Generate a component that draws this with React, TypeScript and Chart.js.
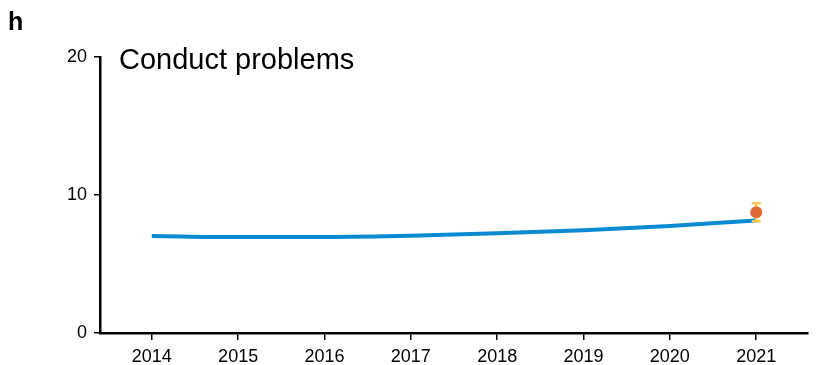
import React, { useEffect, useRef } from "react";
import { Chart, registerables } from "chart.js";

Chart.register(...registerables);

const years = [2014, 2015, 2016, 2017, 2018, 2019, 2020, 2021];
const trendValues = [7.03, 6.95, 6.96, 7.05, 7.22, 7.45, 7.76, 8.15];
const observedYear = [2021];
const observedValue = [8.75];
const observedLow = [8.1];
const observedHigh = [9.4];
const yTicks = [0, 10, 20];
const panelLabel = "h";
const panelTitle = "Conduct problems";

const FONT = "'Liberation Sans', Arial, sans-serif";

const errorBarPlugin = {
  id: "errorBars",
  afterDatasetsDraw(chart: any) {
    const { ctx, scales } = chart;
    const x = scales.x;
    const y = scales.y;
    ctx.save();
    ctx.strokeStyle = "#f9c74f";
    ctx.lineWidth = 2.5;
    observedYear.forEach((yr, i) => {
      const px = x.getPixelForValue(yr);
      const top = y.getPixelForValue(observedHigh[i]);
      const bot = y.getPixelForValue(observedLow[i]);
      ctx.beginPath();
      ctx.moveTo(px, top);
      ctx.lineTo(px, bot);
      ctx.moveTo(px - 4.5, top);
      ctx.lineTo(px + 4.5, top);
      ctx.moveTo(px - 4.5, bot);
      ctx.lineTo(px + 4.5, bot);
      ctx.stroke();
    });
    ctx.fillStyle = "#e0693a";
    observedYear.forEach((yr, i) => {
      ctx.beginPath();
      ctx.arc(x.getPixelForValue(yr), y.getPixelForValue(observedValue[i]), 6, 0, Math.PI * 2);
      ctx.fill();
    });
    ctx.restore();
  },
  afterDraw(chart: any) {
    const { ctx } = chart;
    ctx.save();
    ctx.fillStyle = "#000";
    ctx.textBaseline = "alphabetic";
    ctx.textAlign = "left";
    ctx.font = `bold 25px ${FONT}`;
    ctx.fillText(panelLabel, 8, 30);
    ctx.font = `29px ${FONT}`;
    ctx.fillText(panelTitle, 119, 69);
    ctx.restore();
  },
};

export default function App() {
  const ref = useRef<HTMLCanvasElement>(null);
  useEffect(() => {
    document.body.style.margin = "0";
    const chart = new Chart(ref.current!, {
      type: "line",
      data: {
        datasets: [
          {
            data: years.map((v, i) => ({ x: v, y: trendValues[i] })),
            borderColor: "#0a8ad0",
            borderWidth: 4,
            pointRadius: 0,
            cubicInterpolationMode: "monotone",
            fill: false,
          },
          {
            data: observedYear.map((v, i) => ({ x: v, y: observedValue[i] })),
            showLine: false,
            pointRadius: 0,
            borderColor: "#e0693a",
            backgroundColor: "#e0693a",
          },
        ],
      },
      options: {
        animation: false,
        responsive: false,
        layout: { padding: { top: 57, right: 14, left: 0, bottom: 0 } },
        plugins: { legend: { display: false }, tooltip: { enabled: false } },
        scales: {
          x: {
            type: "linear",
            min: 2013.4,
            max: 2021.6,
            afterBuildTicks: (s: any) => {
              s.ticks = years.map((v) => ({ value: v }));
            },
            afterFit: (s: any) => {
              s.height = 32;
            },
            grid: { drawOnChartArea: false, tickLength: 7, color: "#000", lineWidth: 1.5 },
            border: { color: "#000", width: 2.5 },
            ticks: {
              color: "#000",
              font: { family: FONT, size: 18 },
              padding: 6,
              callback: (v: any) => String(v),
              maxRotation: 0,
              autoSkip: false,
            },
          },
          y: {
            min: 0,
            max: 20,
            afterBuildTicks: (s: any) => {
              s.ticks = yTicks.map((v) => ({ value: v }));
            },
            afterFit: (s: any) => {
              s.width = 100;
            },
            grid: { drawOnChartArea: false, tickLength: 6, color: "#000", lineWidth: 1.5 },
            border: { color: "#000", width: 2.5 },
            ticks: {
              color: "#000",
              font: { family: FONT, size: 18 },
              padding: 7,
            },
          },
        },
      },
      plugins: [errorBarPlugin],
    } as any);
    return () => chart.destroy();
  }, []);
  return (
    <div style={{ width: 822, height: 365 }}>
      <canvas ref={ref} width={822} height={365} style={{ display: "block" }} />
    </div>
  );
}
